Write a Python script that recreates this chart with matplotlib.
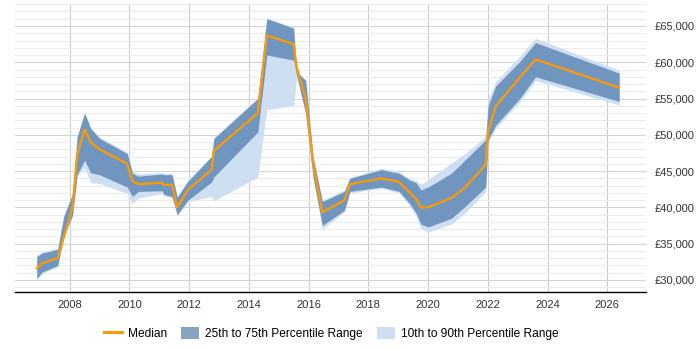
import matplotlib.pyplot as plt
from matplotlib.patches import Patch
from matplotlib.lines import Line2D
from matplotlib.ticker import FuncFormatter, MultipleLocator

plt.rcParams['font.family'] = ['Liberation Sans', 'DejaVu Sans']

years = [2006.9, 2007.08, 2007.6, 2007.8, 2008.1, 2008.25, 2008.5, 2008.7, 2009.0,
         2009.93, 2010.1, 2010.3, 2011.1, 2011.15, 2011.43, 2011.6, 2011.96, 2012.75,
         2012.83, 2014.3, 2014.6, 2015.5, 2015.6, 2015.9, 2016.15, 2016.46, 2017.2,
         2017.38, 2018.44, 2019.03, 2019.37, 2019.6, 2019.76, 2020.0, 2020.78, 2021.23,
         2021.93, 2022.01, 2022.26, 2023.07, 2023.6, 2026.4]

median = [31600, 32300, 33000, 35800, 40100, 47200, 50700, 49000, 48000,
          46000, 43600, 43200, 43400, 43100, 43100, 40000, 42400, 45200,
          47800, 53000, 63700, 62500, 59400, 55000, 46100, 39300, 41000,
          43200, 44000, 43500, 42100, 41200, 40000, 40000, 41300, 42700,
          45900, 50400, 53900, 57900, 60400, 56500]

p75 = [33200, 33700, 34200, 38700, 41900, 49700, 53000, 50900, 49500,
       47400, 44700, 44300, 44600, 44500, 44500, 41400, 43600, 47000,
       49500, 55000, 66000, 64700, 58700, 57500, 47000, 40800, 42200,
       44000, 45200, 44700, 43800, 43400, 42400, 42800, 44700, 46500,
       49300, 54000, 56700, 60100, 62700, 58500]

p25 = [30200, 31100, 32000, 36000, 39000, 44500, 46500, 44800, 44500,
       42800, 41500, 42200, 42300, 41800, 41500, 39000, 41000, 43500,
       44200, 50400, 61000, 60300, 58200, 53000, 44200, 37500, 39600,
       42200, 42800, 42200, 40600, 39200, 37700, 37300, 38500, 40100,
       42800, 49300, 51300, 55000, 58000, 54600]

p90 = [33400, 33900, 34400, 38900, 42000, 49800, 53100, 51000, 49700,
       47600, 45000, 44600, 44800, 44700, 44700, 41500, 43700, 47100,
       49600, 55100, 66100, 64800, 58800, 57600, 47100, 41000, 42400,
       44100, 45400, 44900, 44000, 43700, 43200, 43800, 46100, 47400,
       49800, 54800, 57300, 60800, 63300, 58900]

p10 = [30000, 30900, 31800, 35800, 38800, 44300, 45500, 43400, 43300,
       41900, 40500, 41300, 41900, 41600, 41300, 38800, 40800, 41500,
       40900, 44200, 53500, 54000, 58000, 52800, 44000, 37000, 39400,
       42000, 42600, 42000, 40300, 38800, 37100, 36600, 37700, 39200,
       42200, 49000, 50900, 54500, 57500, 54100]

x_ticks = list(range(2008, 2027, 2))

dark = '#7096bf'
light = '#cddff0'
orange = '#ff9900'

fig = plt.figure(figsize=(7, 3.5), dpi=100)
ax = fig.add_axes([0.021, 0.166, 0.902, 0.824])

ax.fill_between(years, p10, p90, color=light, lw=0, zorder=2)
ax.fill_between(years, p25, p75, color=dark, lw=0, zorder=3)
ax.plot(years, median, color=orange, lw=1.6, zorder=4)

ax.set_xlim(2006.16, 2027.3)
ax.set_ylim(28350, 68100)
ax.set_xticks(x_ticks)
ax.yaxis.set_major_locator(MultipleLocator(5000))
ax.yaxis.set_minor_locator(MultipleLocator(1000))
ax.yaxis.tick_right()
ax.yaxis.set_major_formatter(FuncFormatter(lambda v, p: '£{:,.0f}'.format(v)))
ax.tick_params(axis='y', which='both', length=0, labelsize=8, pad=6, colors='#333333')
ax.tick_params(axis='x', length=0, labelsize=8, pad=6, colors='#333333')

ax.grid(axis='x', color='#cccccc', lw=0.8, zorder=1)
ax.grid(axis='y', which='major', color='#d4d4d4', lw=0.8, zorder=1)
ax.grid(axis='y', which='minor', color='#ececec', lw=0.8, zorder=1)
ax.set_axisbelow(True)

for s in ['top', 'left', 'right']:
    ax.spines[s].set_visible(False)
ax.spines['bottom'].set_color('black')
ax.spines['bottom'].set_linewidth(1)

handles = [Line2D([], [], color=orange, lw=2.2),
           Patch(facecolor='#86a3c4', edgecolor='none'),
           Patch(facecolor=light, edgecolor='none')]
labels = ['Median', '25th to 75th Percentile Range', '10th to 90th Percentile Range']
fig.legend(handles, labels, loc='center', bbox_to_anchor=(0.473, 0.048), ncol=3,
           frameon=False, fontsize=8.6, handlelength=1.5, handleheight=1.2,
           columnspacing=1.2, handletextpad=0.5)

fig.savefig('out.png', dpi=100)
